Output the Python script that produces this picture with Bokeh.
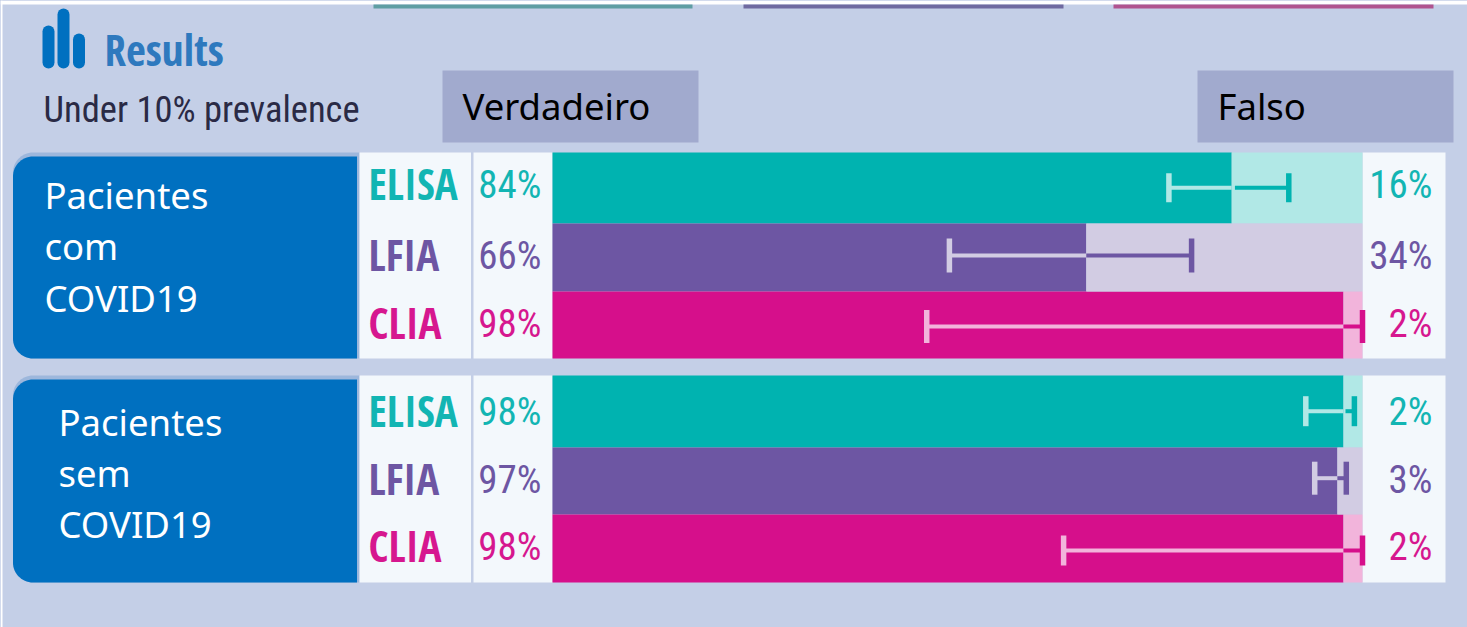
import numpy as np
from bokeh.core.properties import value
from bokeh.embed import file_html
from bokeh.models import Range1d
from bokeh.plotting import figure
from bokeh.resources import INLINE

# ---- data ----
methods = ["ELISA", "LFIA", "CLIA"]
groups = [["Pacientes", "com", "COVID19"], ["Pacientes", "sem", "COVID19"]]
true_pct = [[83.85, 65.9, 97.65], [97.65, 96.9, 97.65]]
true_labels = [["84%", "66%", "98%"], ["98%", "97%", "98%"]]
false_labels = [["16%", "34%", "2%"], ["2%", "3%", "2%"]]
ci_low = [[76.1, 49.0, 46.2], [93.0, 94.1, 63.1]]
ci_high = [[90.9, 78.9, 100.0], [99.0, 98.0, 100.0]]
head_true = "Verdadeiro"
head_false = "Falso"
title = "Results"
subtitle = "Under 10% prevalence"

# ---- styles and layout ----
BG, HEAD, BLUE, BLUE_EDGE, PANEL = "#C4CFE7", "#A1AACE", "#0070C0", "#9DB7DC", "#F3F8FC"
DARK = ["#00B3B0", "#6D56A3", "#D60F8B"]
LIGHT = ["#B1E8E6", "#D2CCE3", "#F2B4DB"]
TXT = ["#12B5B3", "#6D56A3", "#D6178F"]
row_edges = [[152, 223, 291, 358], [375, 447, 514, 582]]
line_y = [[187.3, 255, 326], [410.7, 477.7, 550]]
cap_half = [[14.5, 17, 16.5], [15, 16.5, 15]]
dark_gap = [[0.4, 0, 0], [0.25, 0, 0]]
base_y = [[201.7, 273, 341], [429, 497, 564]]
group_base = [[211, 262, 313.7], [438, 488.7, 539.7]]
group_x = [44, 58]
X0, PX_PER_PCT = 552, 8.1
W, H = 1467, 627
FONT = "Noto Sans"
COND = "Open Sans Condensed"
REG = "Roboto Condensed"
BASE_SHIFT = 0.44  # baseline correction of the svg text, in em

p = figure(width=W, height=H, output_backend="svg", toolbar_location=None,
           x_axis_type=None, y_axis_type=None, min_border=0,
           x_range=Range1d(-X0 / PX_PER_PCT, (W - X0) / PX_PER_PCT),
           y_range=Range1d(H, 0),
           background_fill_color=BG, border_fill_color=BG,
           outline_line_color=None)
p.grid.visible = False
p.extra_x_ranges = {"px": Range1d(0, W)}


def label(x, y, text, font, size, color, **kw):
    p.text(x=x, y=y, text=text, text_font=value(font), text_font_size=f"{size}px",
           text_baseline="alphabetic", y_offset=-BASE_SHIFT * size, text_color=color,
           x_range_name="px", **kw)


def rounded(left, right, top, bottom, r):
    a = np.linspace(0, np.pi / 2, 16)
    xs = [right, right] + list(left + r - r * np.sin(a)) + list(left + r - r * np.cos(a))
    ys = [bottom, top] + list(top + r - r * np.cos(a)) + list(bottom - r + r * np.sin(a))
    return xs, ys


# white edge of the picture
p.quad(left=[0, 0], right=[2, W], top=[0, 0], bottom=[H, 4],
       fill_color="#FFFFFF", line_color=None, x_range_name="px", level="underlay")
# header strips cut off by the top of the picture
p.quad(left=[373, 743, 1113], right=[692, 1063, 1433], top=[4, 4, 4], bottom=[8, 8, 8],
       fill_color=["#5F9EA3", "#6F6AA0", "#B0548F"], line_color=None, x_range_name="px")

# icon
p.segment(x0=[48, 63, 78.5], x1=[48, 63, 78.5], y0=[62, 62, 62], y1=[31, 14, 39],
          line_color=BLUE, line_width=12, line_cap="round", x_range_name="px")
label([104], [68], [title], COND, 43, "#2E79BE")
label([43], [125], [subtitle], REG, 36.5, "#2A2A45")

# headers
p.quad(left=[442, 1197], right=[698, 1453], top=[70, 70], bottom=[142, 142],
       fill_color=HEAD, line_color=None, x_range_name="px")
label([462, 1217], [122, 122], [head_true, head_false], FONT, 36.5, "#000000")

for g in range(2):
    edges = row_edges[g]
    top, bottom = edges[0], edges[-1]
    # blue group label
    xs, ys = rounded(12.5, 359, top, bottom, 20)
    p.patch(xs, ys, fill_color=BLUE_EDGE, line_color=None, x_range_name="px")
    xs, ys = rounded(12.5, 356.5, top + 4, bottom, 20)
    p.patch(xs, ys, fill_color=BLUE, line_color=None, x_range_name="px")
    label([group_x[g]] * 3, group_base[g], groups[g], FONT, 36.5, "#FFFFFF")
    # white panels
    p.quad(left=[359, 473, 1362], right=[470.5, 552, 1445], top=[top] * 3, bottom=[bottom] * 3,
           fill_color=PANEL, line_color=None, x_range_name="px")
    # bars
    tops, bottoms = edges[:-1], edges[1:]
    p.quad(left=[0, 0, 0], right=true_pct[g], top=tops, bottom=bottoms,
           fill_color=DARK, line_color=None)
    p.quad(left=true_pct[g], right=[100, 100, 100], top=tops, bottom=bottoms,
           fill_color=LIGHT, line_color=None)
    # confidence intervals
    cap_w = 5.5 / PX_PER_PCT
    y0 = [y - c for y, c in zip(line_y[g], cap_half[g])]
    y1 = [y + c for y, c in zip(line_y[g], cap_half[g])]
    p.segment(x0=ci_low[g], x1=true_pct[g], y0=line_y[g], y1=line_y[g],
              line_color=LIGHT, line_width=4)
    p.segment(x0=[t + d for t, d in zip(true_pct[g], dark_gap[g])], x1=ci_high[g],
              y0=line_y[g], y1=line_y[g], line_color=DARK, line_width=4)
    p.quad(left=[v - cap_w / 2 for v in ci_low[g]], right=[v + cap_w / 2 for v in ci_low[g]],
           top=y0, bottom=y1, fill_color=LIGHT, line_color=None)
    p.quad(left=[v - cap_w / 2 for v in ci_high[g]], right=[v + cap_w / 2 for v in ci_high[g]],
           top=y0, bottom=y1, fill_color=DARK, line_color=None)
    # row labels
    label([368] * 3, base_y[g], methods, COND, 43, TXT)
    label([541] * 3, base_y[g], true_labels[g], REG, 39, TXT, text_align="right")
    label([1432] * 3, base_y[g], false_labels[g], REG, 39, TXT, text_align="right")

TEMPLATE = """{% block postamble %}<style>html, body { background: #C4CFE7; }</style>{% endblock %}
"""
open("out.html", "w").write(file_html(p, INLINE, template=TEMPLATE))
